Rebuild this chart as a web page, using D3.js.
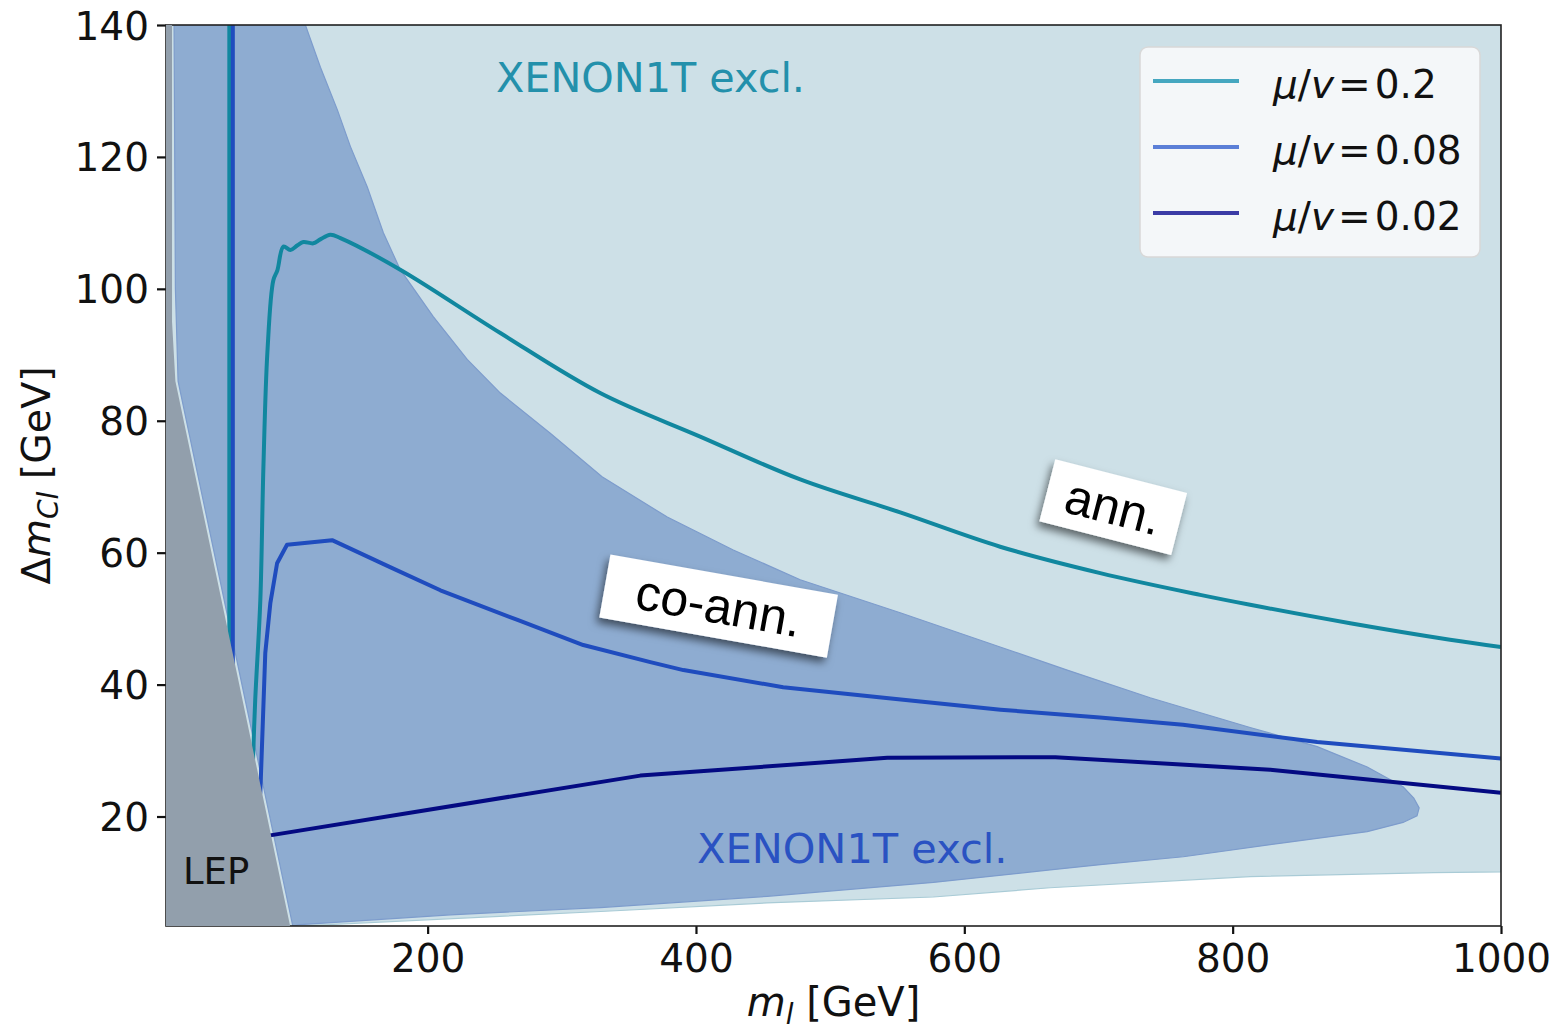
<!DOCTYPE html>
<html>
<head>
<meta charset="utf-8">
<script src="https://cdn.jsdelivr.net/npm/d3@7"></script>
<style>
  body { margin: 0; background: #fff; }
  text { font-family: "DejaVu Sans", sans-serif; }
</style>
</head>
<body>
<div id="chart"></div>
<script>
// Data (m_l [GeV], Delta m [GeV])
//--------------------------------
var xTicks = [200, 400, 600, 800, 1000];
var yTicks = [20, 40, 60, 80, 100, 120, 140];

var legendLabels = ["0.2", "0.08", "0.02"];

// relic abundance curves for mu/v = 0.2, 0.08, 0.02
var line02 = [[52.2,140],[52.2,40],[69.5,26.5],[71.5,37.7],[75.3,52.8],[77.6,73],[80.6,90.5],[85,101.3],
  [88,102.8],[92.5,106.4],[97.7,105.9],[103,106.6],[107.4,107.1],[114.8,106.9],[120,107.5],[127.5,108.2],
  [135,107.7],[179.6,102.9],[254.2,93.3],[328.6,84.2],[403.1,77.6],[477.7,71.1],[552.2,66.1],[626.7,60.9],
  [701.3,56.9],[775.8,53.6],[813,52.1],[887.6,49.3],[962,46.8],[1000,45.7]];

var line008 = [[54.8,140],[54.8,40],[74,22],[75.3,23.6],[79,44.8],[82.8,52.4],[87.8,58.4],[95.2,61.2],
  [128.8,61.9],[172,57.8],[209.5,54.3],[267,49.8],[316,46.0],[366,43.4],[390.6,42.2],[465,39.6],
  [540,38.0],[627,36.2],[701,35.0],[763,33.9],[863,31.3],[1000,28.8]];

var line002 = [[81.4,17.1],[358.5,26.2],[542.6,28.9],[667.8,29.0],[828,27.1],[1000,23.6]];

// XENON1T excluded regions
var xenonWide = [[5,140],[1000,140],[1000,11.6],[950,11.5],[813,10.9],[664,9.2],[577,7.8],
  [453,6.9],[329,5.6],[105,3.4],[5,3.4]];

var xenonNarrow = [[11,140],[108.9,140],[120.1,133.6],[132.8,127.1],[142.4,121.6],[155.1,115.4],
  [167,108.5],[179.6,102.9],[204.2,95.8],[229.5,89.3],[254.2,84.2],[291.4,78.1],[330,71.5],
  [378.6,65.4],[427.8,60.4],[477.7,55.9],[552.2,50.9],[626.7,45.7],[676.7,42.2],[738.5,38.0],
  [813,33.5],[863,30.6],[900.3,27.5],[927,24.5],[935,22.8],[939,21.3],[937.4,20.1],[927,19.1],
  [900.3,17.7],[837.7,16.0],[763.2,13.9],[701.3,12.7],[664,11.9],[576.9,10.0],[453.2,7.9],
  [328.8,6.2],[217,5.1],[105.1,3.6],[99.5,3.4],[14,86],[12,100]];

// LEP excluded region
var lepRegion = [[5,140],[9.5,140],[9.5,95],[12,86],[97.5,3.4],[5,3.4]];


// Sizing parameters
//------------------
var svgWidth = 1558;
var svgHeight = 1031;

var margin = { top: 25, right: 57, bottom: 105, left: 166 };

var width = svgWidth - margin.left - margin.right;
var height = svgHeight - margin.top - margin.bottom;

var colors = {
  wide: "#cde0e7",
  narrow: "#8eacd1",
  lep: "#929fac",
  l02: "#11879f",
  l008: "#1f4cbe",
  l002: "#040a82",
  leg02: "#45a7c0",
  leg008: "#5b7fd7",
  leg002: "#3b3ca6"
};

var svg = d3.select("#chart")
  .append("svg")
  .attr("width", svgWidth)
  .attr("height", svgHeight);

var defs = svg.append("defs");
defs.append("clipPath").attr("id", "plotclip")
  .append("rect").attr("width", width).attr("height", height);
defs.append("filter").attr("id", "shadow")
  .attr("x", "-30%").attr("y", "-40%").attr("width", "160%").attr("height", "180%")
  .append("feDropShadow")
  .attr("dx", -3).attr("dy", 5).attr("stdDeviation", 4.5)
  .attr("flood-color", "#000").attr("flood-opacity", 0.55);

var chartGroup = svg.append("g")
  .attr("transform", `translate(${margin.left}, ${margin.top})`);

// Scales
var xScale = d3.scaleLinear().domain([5, 1000]).range([0, width]);
var yScale = d3.scaleLinear().domain([3.4, 140]).range([height, 0]);

var area = d3.line().x(d => xScale(d[0])).y(d => yScale(d[1]));
var plot = chartGroup.append("g").attr("clip-path", "url(#plotclip)");

// regions
plot.append("path").datum(xenonWide)
  .attr("d", d => area(d) + "Z")
  .attr("fill", colors.wide)
  .attr("stroke", "#a9cbd6").attr("stroke-width", 1.2);

plot.append("path").datum(xenonNarrow)
  .attr("d", d => area(d) + "Z")
  .attr("fill", colors.narrow)
  .attr("stroke", "#7d9ccc").attr("stroke-width", 1.2);

// curves
var curveLine = d3.line().x(d => xScale(d[0])).y(d => yScale(d[1]));
var smoothLine = d3.line().x(d => xScale(d[0])).y(d => yScale(d[1]))
  .curve(d3.curveCatmullRom.alpha(0.5));

// mu/v = 0.2 : straight vertical piece, then the smooth curve
plot.append("path").datum(line02.slice(0, 3))
  .attr("d", curveLine).attr("fill", "none")
  .attr("stroke", colors.l02).attr("stroke-width", 4).attr("stroke-linejoin", "round");
plot.append("path").datum(line02.slice(2))
  .attr("d", smoothLine).attr("fill", "none")
  .attr("stroke", colors.l02).attr("stroke-width", 4).attr("stroke-linejoin", "round");
plot.append("path").datum(line008)
  .attr("d", curveLine).attr("fill", "none")
  .attr("stroke", colors.l008).attr("stroke-width", 4).attr("stroke-linejoin", "round");
plot.append("path").datum(line002)
  .attr("d", curveLine).attr("fill", "none")
  .attr("stroke", colors.l002).attr("stroke-width", 4).attr("stroke-linejoin", "round");

// axes
var bottomAxis = d3.axisBottom(xScale).tickValues(xTicks).tickFormat(d3.format("d"))
  .tickSize(8).tickPadding(8);
var leftAxis = d3.axisLeft(yScale).tickValues(yTicks).tickFormat(d3.format("d"))
  .tickSize(9).tickPadding(8);

var xAxis = chartGroup.append("g")
  .attr("transform", `translate(0, ${height})`)
  .call(bottomAxis);
var yAxis = chartGroup.append("g").call(leftAxis);

[xAxis, yAxis].forEach(function(ax){
  ax.select(".domain").remove();
  ax.selectAll("line").attr("stroke", "#111").attr("stroke-width", 2.2);
  ax.selectAll("text")
    .attr("fill", "#111")
    .style("font-size", "39px")
    .style("font-family", "DejaVu Sans");
});
yAxis.selectAll("text").attr("dy", "0.36em");
xAxis.selectAll("text").attr("dy", "0.76em");

// frame
chartGroup.append("rect")
  .attr("width", width).attr("height", height)
  .attr("fill", "none").attr("stroke", "#222").attr("stroke-width", 1.6);

// LEP on top
chartGroup.append("path").datum(lepRegion)
  .attr("d", d => area(d) + "Z")
  .attr("fill", colors.lep);

chartGroup.append("text")
  .attr("x", 17).attr("y", 859)
  .style("font-size", "37px").attr("fill", "#111")
  .text("LEP");

// region labels
chartGroup.append("text")
  .attr("x", 330).attr("y", 67)
  .style("font-size", "41.3px").attr("fill", "#2390ab")
  .text("XENON1T excl.");
chartGroup.append("text")
  .attr("x", 531).attr("y", 838)
  .style("font-size", "41.5px").attr("fill", "#2a52c2")
  .text("XENON1T excl.");

// boxed annotations
function boxLabel(cx, cy, w, h, angle, label){
  var g = chartGroup.append("g").attr("filter", "url(#shadow)");
  var inner = g.append("g")
    .attr("transform", `translate(${xScale(cx)}, ${yScale(cy)}) rotate(${angle})`);
  inner.append("rect")
    .attr("x", -w / 2).attr("y", -h / 2)
    .attr("width", w).attr("height", h)
    .attr("fill", "#fff");
  inner.append("text")
    .attr("text-anchor", "middle")
    .attr("y", 17)
    .style("font-family", "Liberation Sans, Arial, sans-serif")
    .style("font-size", "50px")
    .attr("fill", "#000")
    .text(label);
}
boxLabel(416.9, 51.9, 231, 64, 10, "co-ann.");
boxLabel(711, 66.9, 136, 64, 14.4, "ann.");

// legend
var legend = svg.append("g").attr("transform", "translate(1140, 47)");
legend.append("rect")
  .attr("width", 340).attr("height", 210)
  .attr("rx", 8)
  .attr("fill", "#f5f8fa").attr("fill-opacity", 0.95)
  .attr("stroke", "#d8d8d8").attr("stroke-width", 1.5);

var legColors = [colors.leg02, colors.leg008, colors.leg002];
legendLabels.forEach(function(lab, i){
  var yy = 34 + i * 66;
  legend.append("line")
    .attr("x1", 13).attr("x2", 99)
    .attr("y1", yy).attr("y2", yy)
    .attr("stroke", legColors[i]).attr("stroke-width", 4);
  var t = legend.append("text")
    .attr("x", 133).attr("y", yy + 17)
    .style("font-size", "39px").attr("fill", "#111");
  t.append("tspan").style("font-style", "italic").text("\u03bc");
  t.append("tspan").text("/");
  t.append("tspan").style("font-style", "italic").text("v");
  t.append("tspan").attr("dx", 4).text("=");
  t.append("tspan").attr("dx", 4).text(lab);
});

// axis titles
var xt = svg.append("text")
  .attr("x", margin.left + width / 2).attr("y", 1016)
  .attr("text-anchor", "middle")
  .style("font-size", "40px").attr("fill", "#111");
xt.append("tspan").style("font-style", "italic").text("m");
xt.append("tspan").style("font-style", "italic").style("font-size", "28px").attr("dy", 8).text("l");
xt.append("tspan").attr("dy", -8).text(" [GeV]");

var yt = svg.append("text")
  .attr("transform", `translate(50, ${margin.top + height / 2}) rotate(-90)`)
  .attr("text-anchor", "middle")
  .style("font-size", "39.5px").attr("fill", "#111");
yt.append("tspan").text("\u0394");
yt.append("tspan").style("font-style", "italic").text("m");
yt.append("tspan").style("font-style", "italic").style("font-size", "28px").attr("dy", 8).text("Cl");
yt.append("tspan").attr("dy", -8).text(" [GeV]");
</script>
</body>
</html>
